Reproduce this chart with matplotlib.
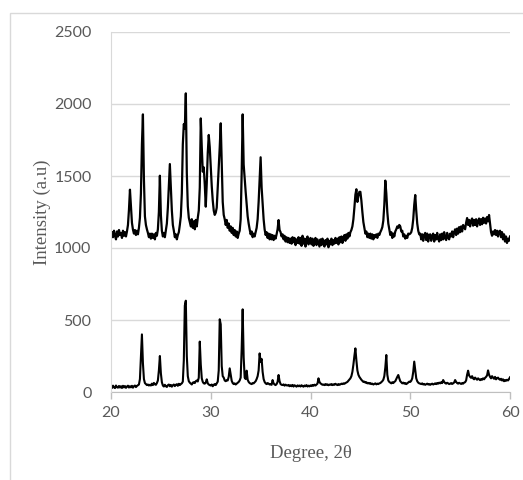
import numpy as np
import matplotlib
matplotlib.use("Agg")
import matplotlib.pyplot as plt
from matplotlib.patches import Rectangle

# 2-theta scan, 20-60 deg at 0.1 deg steps
two_theta = np.round(np.arange(200, 601) / 10.0, 1)

# Upper pattern (offset sample), one row per degree
upper = [
    1070, 1110, 1075, 1120, 1085, 1060, 1115, 1080, 1125, 1090,  # 20
    1105, 1070, 1120, 1085, 1110, 1080, 1115, 1160, 1265, 1405,  # 21
    1290, 1175, 1128, 1100, 1125, 1090, 1120, 1095, 1140, 1210,  # 22
    1380, 1720, 1928, 1480, 1220, 1160, 1130, 1105, 1075, 1100,  # 23
    1065, 1100, 1070, 1095, 1060, 1105, 1085, 1130, 1250, 1502,  # 24
    1230, 1120, 1080, 1105, 1075, 1120, 1170, 1280, 1440, 1583,  # 25
    1420, 1260, 1160, 1120, 1075, 1095, 1060, 1090, 1110, 1160,  # 26
    1220, 1380, 1720, 1860, 1830, 2074, 1520, 1290, 1210, 1180,  # 27
    1150, 1200, 1140, 1185, 1130, 1195, 1150, 1210, 1260, 1420,  # 28
    1900, 1700, 1530, 1560, 1440, 1287, 1450, 1660, 1785, 1700,  # 29
    1560, 1430, 1330, 1260, 1230, 1245, 1280, 1420, 1560, 1700,  # 30
    1866, 1580, 1320, 1230, 1200, 1160, 1195, 1140, 1170, 1120,  # 31
    1150, 1105, 1140, 1090, 1125, 1080, 1115, 1070, 1100, 1120,  # 32
    1200, 1520, 1928, 1580, 1480, 1390, 1300, 1220, 1170, 1130,  # 33
    1095, 1115, 1075, 1100, 1080, 1110, 1140, 1200, 1320, 1480,  # 34
    1630, 1420, 1310, 1200, 1130, 1090, 1110, 1070, 1100, 1060,  # 35
    1095, 1060, 1090, 1055, 1085, 1065, 1095, 1130, 1194, 1125,  # 36
    1110, 1080, 1095, 1060, 1085, 1045, 1075, 1040, 1070, 1035,  # 37
    1065, 1030, 1075, 1040, 1070, 1020, 1060, 1035, 1075, 1030,  # 38
    1070, 1015, 1085, 1030, 1065, 1010, 1060, 1080, 1025, 1055,  # 39
    1070, 1025, 1065, 1015, 1055, 1070, 1020, 1060, 1035, 1010,  # 40
    1060, 1020, 1065, 1030, 1010, 1055, 1025, 1065, 1005, 1050,  # 41
    1025, 1065, 1020, 1055, 1030, 1070, 1035, 1065, 1025, 1075,  # 42
    1040, 1080, 1035, 1075, 1090, 1050, 1095, 1065, 1105, 1080,  # 43
    1110, 1125, 1150, 1200, 1280, 1370, 1408, 1320, 1360, 1390,  # 44
    1390, 1330, 1250, 1180, 1140, 1100, 1115, 1075, 1100, 1070,  # 45
    1100, 1065, 1095, 1060, 1090, 1075, 1095, 1070, 1100, 1090,  # 46
    1110, 1125, 1145, 1190, 1300, 1468, 1380, 1250, 1170, 1130,  # 47
    1090, 1110, 1070, 1100, 1080, 1115, 1130, 1150, 1140, 1160,  # 48
    1150, 1115, 1120, 1080, 1095, 1065, 1085, 1070, 1100, 1095,  # 49
    1100, 1110, 1140, 1200, 1300, 1368, 1260, 1170, 1120, 1095,  # 50
    1100, 1060, 1095, 1050, 1090, 1105, 1055, 1100, 1045, 1090,  # 51
    1095, 1050, 1085, 1100, 1045, 1090, 1060, 1105, 1065, 1045,  # 52
    1095, 1055, 1100, 1060, 1110, 1070, 1055, 1105, 1075, 1060,  # 53
    1100, 1080, 1115, 1075, 1110, 1130, 1090, 1135, 1100, 1145,  # 54
    1110, 1150, 1115, 1160, 1145, 1130, 1175, 1208, 1160, 1195,  # 55
    1150, 1190, 1205, 1155, 1195, 1160, 1200, 1150, 1185, 1205,  # 56
    1160, 1200, 1165, 1210, 1175, 1205, 1170, 1215, 1185, 1229,  # 57
    1170, 1110, 1085, 1115, 1095, 1125, 1090, 1120, 1080, 1115,  # 58
    1120, 1075, 1110, 1060, 1095, 1045, 1080, 1035, 1065, 1050,  # 59
    1080,                                                        # 60
]

# Lower pattern (reference sample)
lower = [
    38, 28, 44, 32, 27, 45, 33, 30, 42, 31,            # 20
    40, 28, 43, 32, 41, 29, 38, 44, 31, 40,            # 21
    32, 43, 30, 40, 45, 34, 42, 47, 52, 90,            # 22
    250, 400, 200, 90, 62, 55, 48, 52, 45, 50,         # 23
    45, 58, 48, 63, 53, 50, 62, 80, 150, 250,          # 24
    130, 68, 45, 38, 50, 40, 35, 47, 52, 40,           # 25
    49, 37, 47, 52, 41, 50, 54, 43, 57, 48,            # 26
    55, 60, 72, 220, 600, 634, 250, 110, 75, 65,       # 27
    58, 52, 65, 68, 62, 75, 80, 73, 100, 350,          # 28
    190, 95, 70, 60, 58, 65, 88, 60, 52, 48,           # 29
    45, 52, 40, 50, 55, 48, 60, 72, 150, 505,          # 30
    470, 180, 110, 100, 80, 75, 82, 80, 105, 164,      # 31
    120, 78, 62, 55, 60, 52, 58, 65, 70, 80,           # 32
    100, 300, 574, 240, 100, 90, 148, 85, 70, 62,      # 33
    58, 55, 62, 60, 68, 75, 90, 110, 150, 268,         # 34
    210, 230, 140, 90, 70, 60, 55, 62, 58, 52,         # 35
    55, 50, 83, 60, 52, 48, 55, 70, 118, 75,           # 36
    55, 50, 48, 53, 44, 51, 46, 45, 49, 40,            # 37
    47, 40, 49, 38, 47, 42, 37, 46, 40, 45,            # 38
    38, 47, 41, 37, 45, 40, 48, 38, 44, 39,            # 39
    46, 41, 49, 43, 51, 45, 52, 58, 95, 70,            # 40
    60, 55, 50, 52, 48, 55, 50, 53, 47, 52,            # 41
    50, 55, 48, 53, 50, 57, 52, 48, 55, 50,            # 42
    53, 58, 55, 60, 57, 62, 66, 70, 78, 85,            # 43
    95, 110, 140, 190, 250, 303, 220, 150, 120, 105,   # 44
    95, 85, 78, 70, 72, 65, 68, 60, 63, 58,            # 45
    62, 55, 58, 52, 56, 60, 53, 58, 55, 60,            # 46
    62, 68, 75, 85, 110, 170, 257, 120, 80, 70,        # 47
    65, 60, 68, 62, 70, 75, 90, 105, 118, 95,          # 48
    75, 68, 60, 65, 58, 62, 55, 60, 66, 72,            # 49
    70, 78, 95, 140, 211, 150, 95, 75, 65, 60,         # 50
    58, 55, 60, 52, 56, 50, 54, 58, 52, 55,            # 51
    50, 54, 58, 52, 56, 60, 55, 62, 58, 65,            # 52
    60, 68, 62, 83, 70, 62, 58, 64, 60, 55,            # 53
    58, 62, 56, 60, 66, 83, 70, 62, 58, 64,            # 54
    60, 56, 62, 58, 65, 68, 80, 120, 148, 115,         # 55
    105, 98, 110, 95, 88, 100, 92, 85, 95, 88,         # 56
    82, 90, 85, 95, 88, 98, 105, 115, 150, 120,        # 57
    105, 95, 110, 100, 92, 105, 88, 95, 100, 90,       # 58
    85, 92, 80, 88, 75, 82, 78, 85, 80, 90,            # 59
    102,                                               # 60
]

x_ticks = [20, 30, 40, 50, 60]
y_ticks = [0, 500, 1000, 1500, 2000, 2500]

tick_font = "Lato"
label_font = "Liberation Serif"
tick_color = "#595959"
grid_color = "#d9d9d9"

fig = plt.figure(figsize=(5.23, 4.8), dpi=100)
fig.patch.set_facecolor("white")

# light chart-area frame
fig.add_artist(Rectangle((10 / 523, -0.05), 1.0, (480 - 13) / 480 + 0.05,
                         transform=fig.transFigure, fill=False,
                         edgecolor="#d9d9d9", linewidth=1.0))

ax = fig.add_axes([111 / 523, 88 / 480, 399 / 523, 360 / 480])
ax.plot(two_theta, upper, color="black", linewidth=1.6)
ax.plot(two_theta, lower, color="black", linewidth=1.5)

ax.set_xlim(20, 60)
ax.set_ylim(0, 2500)
ax.set_xticks(x_ticks)
ax.set_yticks(y_ticks)

ax.yaxis.grid(True, color=grid_color, linewidth=1.0)
ax.set_axisbelow(True)
for side in ("top", "right"):
    ax.spines[side].set_visible(False)
ax.spines["left"].set_color(grid_color)
ax.spines["bottom"].set_color("#bfbfbf")
ax.spines["bottom"].set_zorder(0.5)

ax.tick_params(axis="x", direction="out", length=5, width=1.0,
               color="#bfbfbf", labelcolor=tick_color, labelsize=11.5, pad=5)
ax.tick_params(axis="y", length=0, labelcolor=tick_color, labelsize=11.5, pad=14)
for lab in ax.get_xticklabels() + ax.get_yticklabels():
    lab.set_family(tick_font)

ax.set_xlabel("Degree, 2θ", family=label_font, fontsize=13.5,
              color=tick_color, labelpad=18)
ax.set_ylabel("Intensity (a.u)", family=label_font, fontsize=13.5,
              color=tick_color, labelpad=2)

fig.savefig("out.png", dpi=100)
